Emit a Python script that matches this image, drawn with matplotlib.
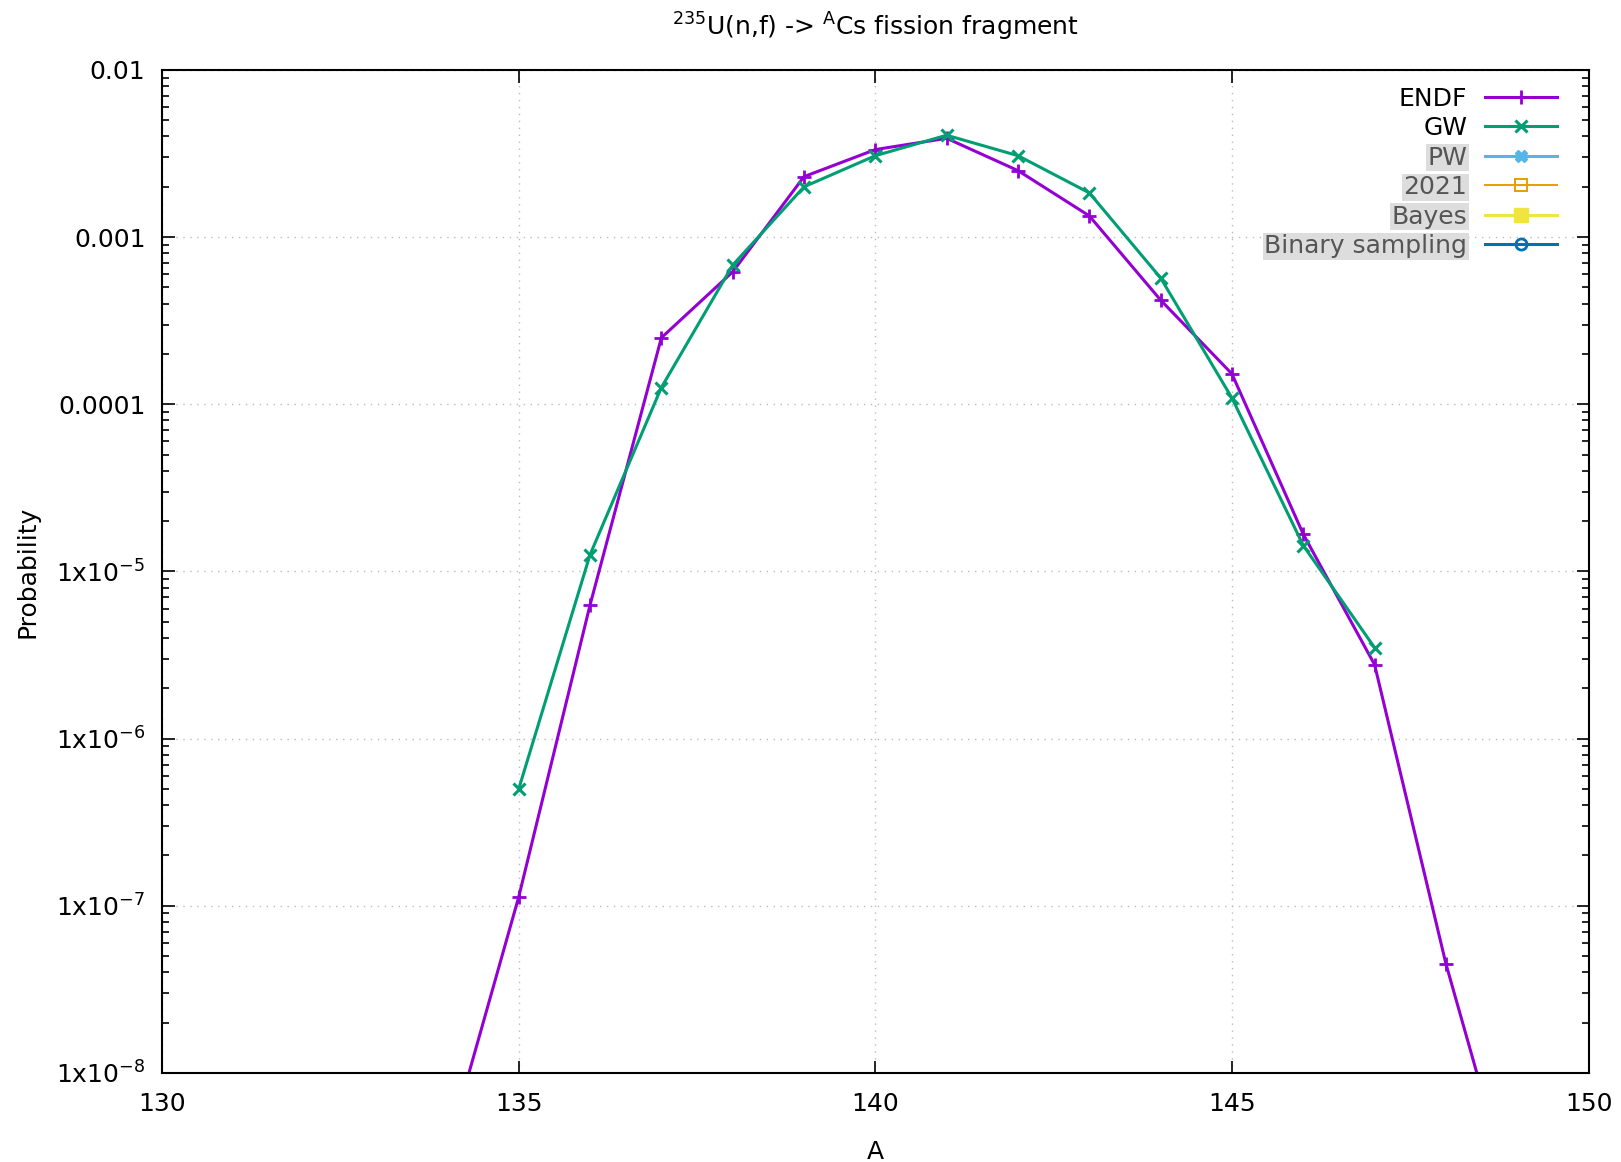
import numpy as np
import matplotlib.pyplot as plt
from matplotlib.ticker import FixedLocator, FuncFormatter, NullFormatter

# fission fragment mass number A and probabilities
A_endf = [134, 135, 136, 137, 138, 139, 140, 141, 142, 143, 144, 145, 146, 147, 148, 149]
P_endf = [3.5e-9, 1.13e-7, 6.3e-6, 2.5e-4, 6.2e-4, 2.3e-3, 3.34e-3, 3.9e-3,
          2.5e-3, 1.34e-3, 4.2e-4, 1.52e-4, 1.67e-5, 2.77e-6, 4.5e-8, 1.4e-9]

A_gw = [135, 136, 137, 138, 139, 140, 141, 142, 143, 144, 145, 146, 147]
P_gw = [5.0e-7, 1.26e-5, 1.26e-4, 6.8e-4, 2.0e-3, 3.07e-3, 4.07e-3,
        3.07e-3, 1.84e-3, 5.7e-4, 1.09e-4, 1.43e-5, 3.5e-6]

# series with no data in this range (only shown in the key)
empty_series = ["PW", "2021", "Bayes", "Binary sampling"]

FS = 18
plt.rcParams["font.family"] = "DejaVu Sans"
plt.rcParams["mathtext.default"] = "regular"

fig = plt.figure(figsize=(16.21, 11.62), dpi=100)
ax = fig.add_axes([0.1, 0.0766, 0.880, 0.8632])

ax.plot(A_endf, P_endf, color="#9400d3", lw=2.2, marker="+", ms=10, mew=2, label="ENDF")
ax.plot(A_gw, P_gw, color="#009e73", lw=2.2, marker="x", ms=9, mew=2.2, label="GW")
ax.plot([], [], color="#56b4e9", lw=2.2, marker="X", ms=8, label="PW")
ax.plot([], [], color="#e69f00", lw=1.4, marker="s", ms=9, mfc="none", mew=1.4, label="2021")
ax.plot([], [], color="#f0e442", lw=2.2, marker="s", ms=10, label="Bayes")
ax.plot([], [], color="#0072b2", lw=2.2, marker="o", ms=8, mfc="none", mew=2, label="Binary sampling")

ax.set_yscale("log")
ax.set_xlim(130, 150)
ax.set_ylim(1e-8, 1e-2)

# ticks only inside the shown range
decades = np.arange(-8, -1)
ax.xaxis.set_major_locator(FixedLocator([130, 135, 140, 145, 150]))
ax.yaxis.set_major_locator(FixedLocator(10.0 ** decades))
minor = [m * 10.0 ** d for d in decades[:-1] for m in range(2, 10)]
ax.yaxis.set_minor_locator(FixedLocator(minor))
ax.yaxis.set_minor_formatter(NullFormatter())


def fmt(v, pos):
    e = int(round(np.log10(v)))
    if e >= -4:
        return f"{v:.{-e}f}"
    return f"1x10$^{{{e}}}$"


ax.yaxis.set_major_formatter(FuncFormatter(fmt))

ax.tick_params(which="both", direction="in", top=True, right=True, labelsize=FS)
ax.tick_params(axis="y", pad=12)
ax.tick_params(axis="x", pad=14)
ax.tick_params(which="major", length=9, width=1.2)
ax.tick_params(which="minor", length=5, width=1.2)
for s in ax.spines.values():
    s.set_linewidth(1.5)

ax.grid(True, which="major", color="#bbbbbb", linestyle=(0, (1, 4)), lw=1)

ax.set_xlabel("A", fontsize=FS, labelpad=17)
ax.set_ylabel("Probability", fontsize=FS, labelpad=12)
ax.set_title("$^{235}$U(n,f) -> $^{A}$Cs fission fragment", fontsize=FS, pad=25)

leg = ax.legend(loc="upper right", bbox_to_anchor=(1.0, 1.0145), markerfirst=False,
                frameon=False, fontsize=FS, handlelength=2.9, handletextpad=0.7,
                labelspacing=0.22, borderaxespad=0.85)
for t in leg.get_texts():
    if t.get_text() in empty_series:
        t.set_color("#555555")
        t.set_bbox(dict(facecolor="#dddddd", edgecolor="none", pad=1))

fig.savefig("out.png", dpi=100)
